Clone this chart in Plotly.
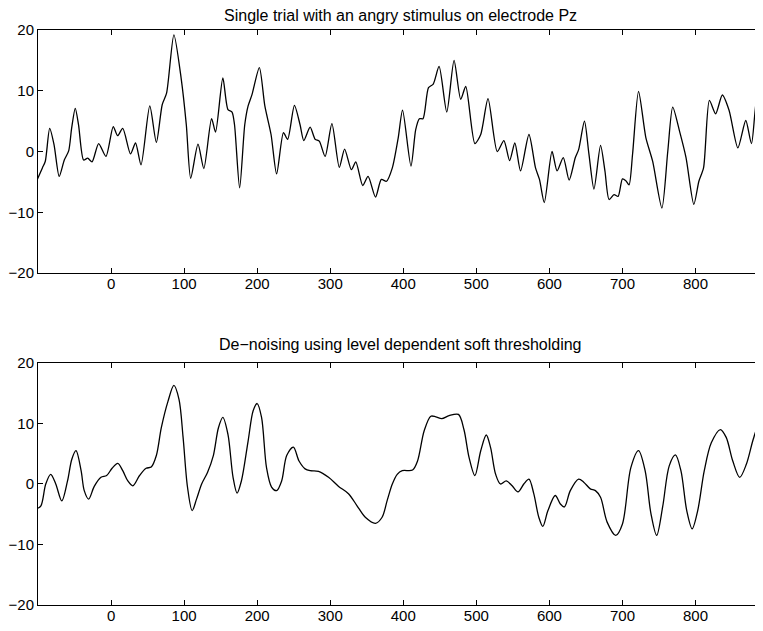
import plotly.graph_objects as go

# ---- Top panel: single trial (raw) ----
raw_t = [-101, -94, -90, -84, -78, -71, -64, -58, -54, -49, -44.5, -37.6, -32, -26, -17, -7, 3, 9, 16, 26.6,
         33.5, 41, 53, 62, 70, 76, 86, 96, 103, 109, 119, 127, 137.6, 143, 153, 160, 165.6, 169, 176, 183,
         187.6, 193, 203, 210.5, 219, 226.6, 236, 241.7, 251, 258.7, 263.8, 272.5, 279.4, 285, 293, 302.3,
         312.4, 319.7, 329, 335, 344.5, 351.8, 362, 370, 377, 385, 393, 399, 410.5, 417, 422, 427, 434.5,
         441, 449, 459.5, 469.5, 478.6, 485.5, 498, 506, 516, 528.6, 537.7, 545.5, 552.7, 560.5, 572, 581,
         586.4, 593, 603.6, 610.5, 619, 627, 635.5, 640, 648, 654, 661, 670, 676, 681.7, 688.5, 694, 700,
         704.6, 709, 713.8, 722, 732, 741.3, 754, 762, 768.8, 778, 787, 797.7, 804.6, 811, 819, 827.5,
         836.7, 845.9, 858, 868.8, 876.6, 885.8, 892]
raw_v = [-4.6, -2.7, -1.6, 3.8, 1.1, -4.1, -1.4, 0.1, 3.8, 7.1, 4.4, -1.4, -1.1, -1.7, 1.3, -0.8, 4.1, 2.6,
         3.8, -0.4, 1.4, -2.2, 7.5, 1.5, 7.7, 9.6, 19.2, 12.0, 4.4, -4.4, 1.2, -2.8, 5.4, 3.2, 12.1, 6.9,
         6.5, 4.4, -6.0, 4.4, 7.5, 9.4, 13.8, 7.5, 2.8, -3.7, 3.1, 2.0, 7.6, 4.4, 1.8, 4.0, 2.0, 1.7, -0.8,
         4.6, -2.6, 0.4, -3.0, -1.7, -5.6, -4.1, -7.5, -4.6, -4.9, -2.7, 2.2, 6.8, -2.4, 3.6, 5.4, 5.4,
         10.5, 11.1, 14.0, 6.5, 15.0, 8.6, 10.7, 1.3, 2.8, 8.7, 0.0, 1.8, -1.5, 1.4, -3.2, 2.8, -2.7, -4.6,
         -8.4, 0.0, -3.2, -1.0, -4.7, -1.0, 0.3, 5.0, -0.3, -6.2, 1.0, -3.2, -7.9, -7.1, -7.4, -4.5, -4.8,
         -5.5, -0.5, 9.9, 2.3, -1.6, -9.3, 0.0, 7.3, 3.4, -1.0, -8.7, -4.9, -2.7, 8.4, 6.2, 9.3, 6.8, 0.6,
         5.1, 1.3, 9.9, 9.4]

# ---- Bottom panel: de-noised ----
den_t = [-102, -96, -89.4, -82.6, -75.7, -67.4, -59.6, -53.7, -48, -41, -36.7, -30.7, -23, -13.8, -6, 1.4,
         9.2, 16, 23, 29.8, 39, 48, 55, 62, 68.8, 78, 86, 93, 98.6, 104.6, 111, 117, 124, 132, 140, 147,
         153, 160, 167, 172.5, 178.4, 187.6, 194.5, 200, 206, 212.8, 219.7, 226.6, 233.5, 240.4, 249.5,
         257.3, 265.6, 272.5, 284, 297.7, 311.5, 325, 336.7, 348, 362, 371, 378, 385, 391.7, 398.6, 412.7,
         419.5, 428.6, 437.7, 444.5, 452.7, 462.7, 475.5, 483, 490, 498, 506, 513.6, 519.5, 526.4, 533,
         541, 549, 557, 565, 572, 578.6, 585.5, 591, 598, 608, 615, 620.5, 628.6, 640, 647, 656, 663, 670,
         679, 690.8, 700, 711.5, 722, 731, 739, 746.8, 755, 764, 772.5, 780, 788, 795.4, 803, 812, 821.6,
         834, 842, 851, 860.5, 869.7, 879, 885.8, 892]
den_v = [-4.1, -3.6, 0, 1.6, 0, -2.8, 0.5, 4.1, 5.5, 2.2, -1.1, -2.5, -0.4, 1.1, 1.4, 2.6, 3.4, 2.2, 0.5,
         -0.3, 1.4, 2.6, 2.8, 4.7, 9.3, 13.7, 16.3, 14.0, 7.7, -0.5, -4.4, -2.5, 0, 1.9, 4.7, 9.3, 11.0,
         8.2, 1.1, -1.5, 0.5, 7.1, 12.1, 13.3, 11.0, 2.7, -0.5, -1.1, 0.5, 4.7, 6.1, 3.8, 2.5, 2.2, 2.1,
         1.1, -0.4, -1.6, -3.6, -5.5, -6.5, -5.5, -2.7, 0, 1.6, 2.2, 2.3, 3.8, 8.8, 11.2, 11.1, 10.8, 11.3,
         11.5, 9.0, 4.4, 1.4, 5.5, 8.1, 6.0, 1.6, 0, 0.5, -0.3, -1.3, 0, 0.8, -1.6, -5.5, -7.0, -4.4, -1.9,
         -3.3, -3.8, -1.1, 0.8, 0.3, -0.8, -1.1, -2.2, -6.3, -8.5, -6.6, 2.7, 5.5, 2.2, -4.9, -8.5, -3.8,
         3.0, 4.8, 2.2, -4.4, -7.4, -4.4, 2.2, 6.8, 9.0, 7.7, 3.8, 1.1, 3.3, 7.4, 9.6, 10.1]

x_ticks = [0, 100, 200, 300, 400, 500, 600, 700, 800]
y_ticks = [-20, -10, 0, 10, 20]
titles = ["Single trial with an angry stimulus on electrode Pz",
          "De\u2212noising using level dependent soft thresholding"]

FONT = "Liberation Sans, Arial, Helvetica, sans-serif"

fig = go.Figure()
fig.add_trace(go.Scatter(x=raw_t, y=raw_v, mode="lines", xaxis="x", yaxis="y",
                         line=dict(color="black", width=1.3, shape="spline", smoothing=0.7),
                         showlegend=False))
fig.add_trace(go.Scatter(x=den_t, y=den_v, mode="lines", xaxis="x2", yaxis="y2",
                         line=dict(color="black", width=1.3, shape="spline", smoothing=0.9),
                         showlegend=False))

axis_common = dict(showline=True, linecolor="black", linewidth=1, mirror="ticks",
                   ticks="inside", ticklen=5, tickcolor="black", tickwidth=1,
                   showgrid=False, zeroline=False, automargin=False,
                   tickfont=dict(family=FONT, size=15, color="black"))

# page body has an 8px margin, so the figure is sized to fit the 763x631 window
fig.update_layout(
    width=755, height=623,
    margin=dict(l=30, r=1, t=22, b=26),
    paper_bgcolor="white", plot_bgcolor="white",
    xaxis=dict(domain=[0, 1], anchor="y", range=[-100, 891], tickvals=x_ticks,
               ticklabelstandoff=-3, **axis_common),
    yaxis=dict(domain=[0.5774, 1.0], anchor="x", range=[-20, 20], tickvals=y_ticks, **axis_common),
    xaxis2=dict(domain=[0, 1], anchor="y2", range=[-100, 891], tickvals=x_ticks,
                ticklabelstandoff=-3, **axis_common),
    yaxis2=dict(domain=[0, 0.4209], anchor="x2", range=[-20, 20], tickvals=y_ticks, **axis_common),
    annotations=[
        dict(text=titles[0], xref="paper", yref="paper", x=0.5, y=1.0, yshift=4,
             xanchor="center", yanchor="bottom", showarrow=False,
             font=dict(family=FONT, size=16, color="black")),
        dict(text=titles[1], xref="paper", yref="paper", x=0.5, y=0.4209, yshift=8,
             xanchor="center", yanchor="bottom", showarrow=False,
             font=dict(family=FONT, size=16, color="black")),
    ],
)

fig.write_html("out.html")
